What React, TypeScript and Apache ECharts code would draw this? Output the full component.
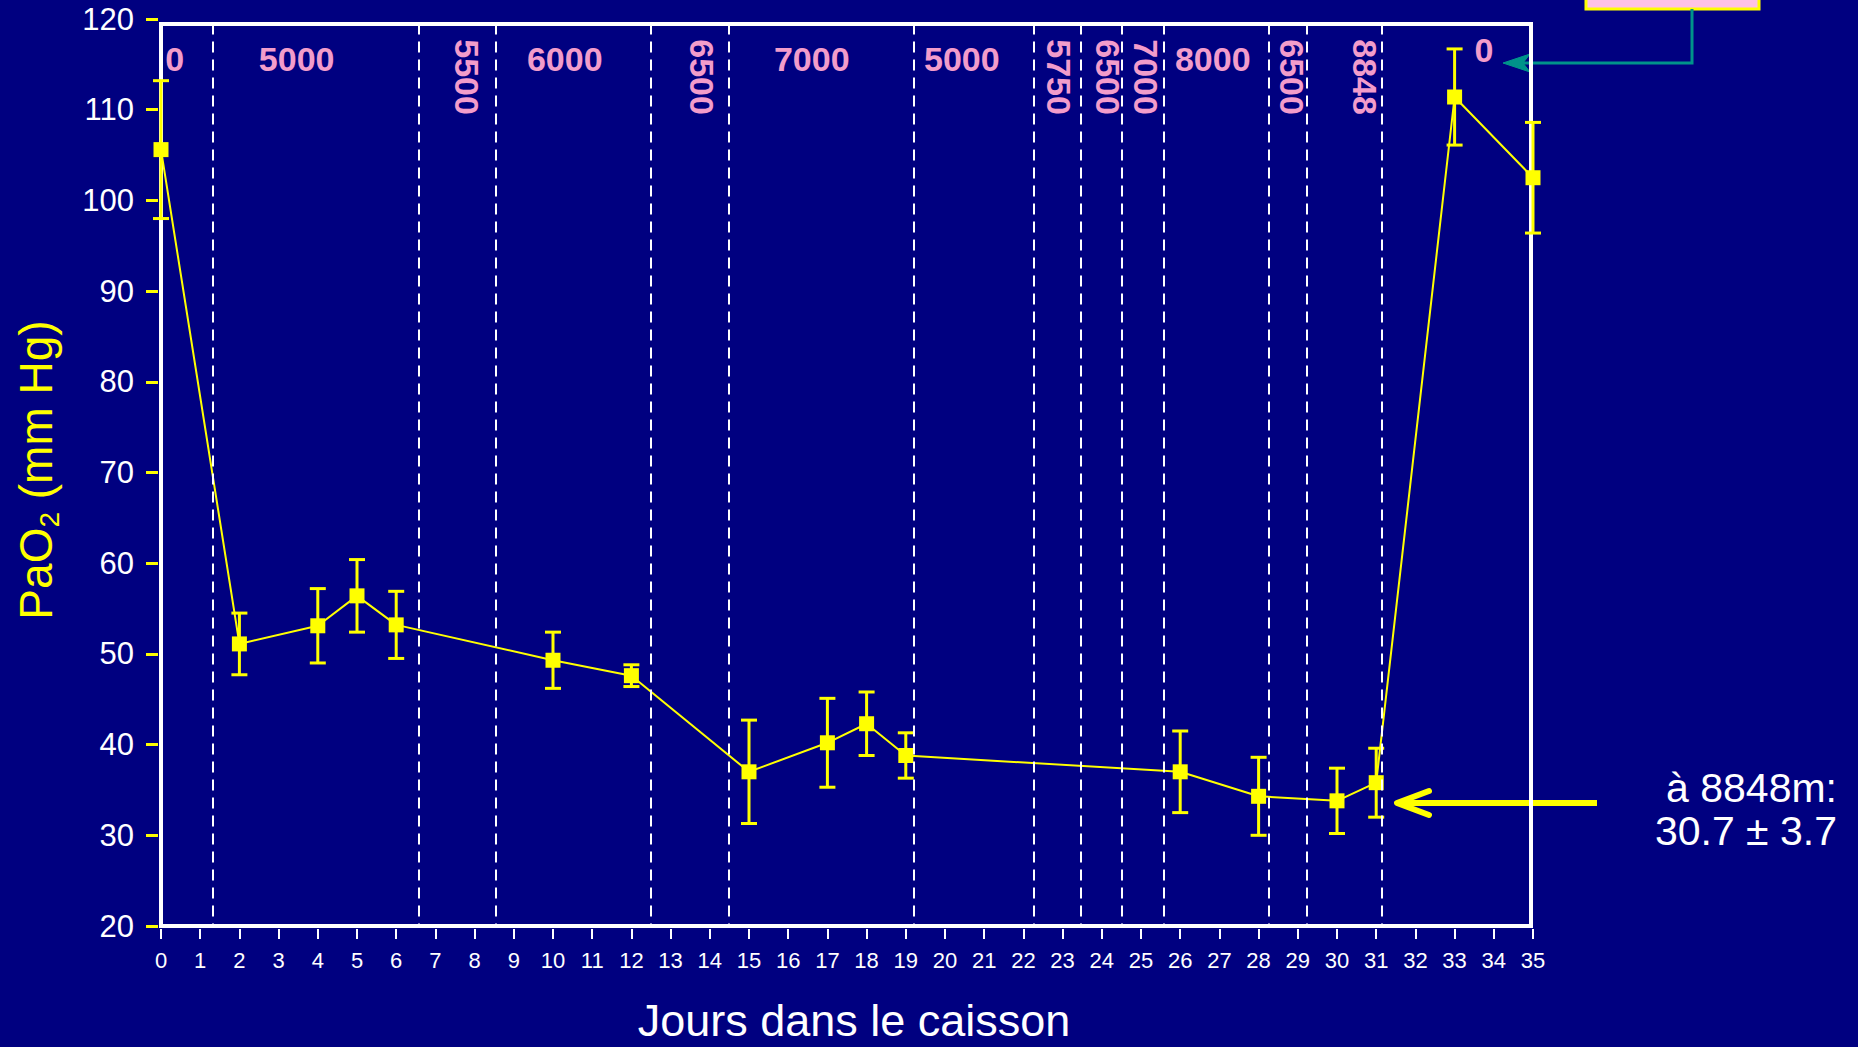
import React, { useEffect, useRef } from 'react';
import * as echarts from 'echarts';

// ---- Data ----
const days = [0, 2, 4, 5, 6, 10, 12, 15, 17, 18, 19, 26, 28, 30, 31, 33, 35];
const pao2Mean = [105.6, 51.1, 53.1, 56.4, 53.2, 49.3, 47.6, 37.0, 40.2, 42.3, 38.8, 37.0, 34.3, 33.8, 35.8, 111.4, 102.5];
const pao2Sd = [7.6, 3.4, 4.1, 4.0, 3.7, 3.1, 1.2, 5.7, 4.9, 3.5, 2.5, 4.5, 4.3, 3.6, 3.8, 5.3, 6.1];

const xMin = 0;
const xMax = 35;
const xInterval = 1;
const yMin = 20;
const yMax = 120;
const yInterval = 10;

// altitude phase boundaries (days)
const phaseBoundaries = [1.33, 6.57, 8.55, 12.5, 14.48, 19.2, 22.27, 23.47, 24.5, 25.58, 28.27, 29.23, 31.14];

// altitude labels (m)
const altitudeLabels = ['0', '5000', '5500', '6000', '6500', '7000', '5000', '5750', '6500', '7000', '8000', '6500', '8848', '0'];
const altitudeLabelDays = [0.35, 3.46, 7.8, 10.3, 13.8, 16.6, 20.43, 22.92, 24.16, 25.12, 26.83, 28.85, 30.71, 33.75];
const altitudeLabelLevels = [115.6, 115.6, 113.6, 115.6, 113.6, 115.6, 115.6, 113.6, 113.6, 113.6, 115.6, 113.6, 113.6, 116.6];
const altitudeLabelVertical = [false, false, true, false, true, false, false, true, true, true, false, true, true, false];

const xAxisTitle = 'Jours dans le caisson';
const summaryLines = ['à 8848m:', '30.7 ± 3.7'];

const FONT = '"Liberation Sans", Arial, Helvetica, sans-serif';
const NAVY = '#000080';
const YELLOW = '#ffff00';
const PINK = '#F29CCB';
const TEAL = '#00938A';

export default function App() {
  const ref = useRef<HTMLDivElement>(null);

  useEffect(() => {
    if (!ref.current) return;
    const chart = echarts.init(ref.current, undefined, { renderer: 'svg' });

    const errData = days.map((d, i) => [d, pao2Mean[i] - pao2Sd[i], pao2Mean[i] + pao2Sd[i]]);
    const lineData = days.map((d, i) => [d, pao2Mean[i]]);
    const labelData = altitudeLabelDays.map((d, i) => [d, altitudeLabelLevels[i]]);

    const option: any = {
      animation: false,
      backgroundColor: NAVY,
      textStyle: { fontFamily: FONT },
      grid: {
        left: 161,
        right: 325,
        top: 19,
        bottom: 121,
        show: false,
        containLabel: false,
        outerBoundsMode: 'none',
      },
      xAxis: {
        type: 'value',
        min: xMin,
        max: xMax,
        interval: xInterval,
        offset: 3,
        axisLine: { show: false, onZero: false },
        axisTick: { show: true, length: 10, lineStyle: { color: '#ffffff', width: 2 } },
        axisLabel: { color: '#ffffff', fontSize: 22, margin: 20, fontFamily: FONT },
        splitLine: { show: false },
        name: xAxisTitle,
        nameLocation: 'middle',
        nameGap: 69,
        nameTextStyle: { color: '#ffffff', fontSize: 45, fontFamily: FONT, padding: [0, 0, 0, 14] },
      },
      yAxis: {
        type: 'value',
        min: yMin,
        max: yMax,
        interval: yInterval,
        offset: 3,
        axisLine: { show: false, onZero: false },
        axisTick: { show: true, length: 12, lineStyle: { color: YELLOW, width: 3 } },
        axisLabel: { color: '#ffffff', fontSize: 31, margin: 24, fontFamily: FONT },
        splitLine: { show: false },
      },
      graphic: [
        {
          type: 'rect',
          z: 1,
          shape: { x: 161, y: 24, width: 1370, height: 902 },
          style: { fill: 'none', stroke: '#ffffff', lineWidth: 4 },
        },
        {
          type: 'text',
          x: 36,
          y: 470,
          rotation: Math.PI / 2,
          style: {
            text: '{a|PaO}{s|2}{a| (mm Hg)}',
            align: 'center',
            verticalAlign: 'middle',
            fill: YELLOW,
            rich: {
              a: { fontSize: 46, lineHeight: 54, fill: YELLOW, fontFamily: FONT },
              s: { fontSize: 28, lineHeight: 31, verticalAlign: 'bottom', fill: YELLOW, fontFamily: FONT },
            },
          },
        },
        {
          type: 'text',
          x: 1837,
          y: 788,
          style: {
            text: summaryLines[0],
            align: 'right',
            verticalAlign: 'middle',
            fill: '#ffffff',
            fontSize: 41,
            fontFamily: FONT,
          },
        },
        {
          type: 'text',
          x: 1837,
          y: 831,
          style: {
            text: summaryLines[1],
            align: 'right',
            verticalAlign: 'middle',
            fill: '#ffffff',
            fontSize: 41,
            fontFamily: FONT,
          },
        },
        {
          type: 'line',
          shape: { x1: 1399, y1: 803, x2: 1597, y2: 803 },
          style: { stroke: YELLOW, lineWidth: 6 },
        },
        {
          type: 'polyline',
          shape: { points: [[1429, 791], [1397, 803], [1429, 815]] },
          style: { stroke: YELLOW, lineWidth: 6, fill: 'none', lineCap: 'round', lineJoin: 'round' },
        },
        {
          type: 'rect',
          shape: { x: 1586, y: -20, width: 173, height: 29 },
          style: { fill: '#FFC2E6', stroke: YELLOW, lineWidth: 3 },
        },
        {
          type: 'polyline',
          shape: { points: [[1692, 9], [1692, 63], [1515, 63]] },
          style: { stroke: TEAL, lineWidth: 3, fill: 'none' },
        },
        {
          type: 'polygon',
          shape: { points: [[1503, 63], [1530, 54], [1523, 63], [1530, 72]] },
          style: { fill: TEAL, stroke: TEAL, lineWidth: 1 },
        },
      ],
      series: [
        {
          type: 'custom',
          name: 'SD',
          clip: false,
          silent: true,
          z: 3,
          data: errData,
          encode: { x: 0, y: [1, 2] },
          renderItem: (params: any, api: any) => {
            const x = api.value(0);
            const pLo = api.coord([x, api.value(1)]);
            const pHi = api.coord([x, api.value(2)]);
            const hw = 8;
            const style = { stroke: YELLOW, lineWidth: 3 };
            return {
              type: 'group',
              children: [
                { type: 'line', shape: { x1: pLo[0], y1: pLo[1], x2: pHi[0], y2: pHi[1] }, style },
                { type: 'line', shape: { x1: pLo[0] - hw, y1: pLo[1], x2: pLo[0] + hw, y2: pLo[1] }, style },
                { type: 'line', shape: { x1: pHi[0] - hw, y1: pHi[1], x2: pHi[0] + hw, y2: pHi[1] }, style },
              ],
            };
          },
          markLine: {
            silent: true,
            symbol: 'none',
            label: { show: false },
            lineStyle: { color: '#ffffff', width: 2, type: [11, 7], opacity: 1 },
            data: phaseBoundaries.map((d) => [
              { coord: [d, 119.5] },
              { coord: [d, yMin] },
            ]),
          },
        },
        {
          type: 'line',
          name: 'PaO2',
          data: lineData,
          clip: false,
          symbol: 'rect',
          symbolSize: 15,
          itemStyle: { color: YELLOW },
          lineStyle: { color: YELLOW, width: 2 },
          z: 4,
        },
        {
          type: 'custom',
          name: 'Altitude',
          clip: false,
          silent: true,
          z: 5,
          data: labelData,
          renderItem: (params: any, api: any) => {
            const i = params.dataIndex;
            const p = api.coord([api.value(0), api.value(1)]);
            return {
              type: 'text',
              x: p[0],
              y: p[1],
              rotation: altitudeLabelVertical[i] ? -Math.PI / 2 : 0,
              style: {
                text: altitudeLabels[i],
                fill: PINK,
                fontSize: 34,
                fontWeight: 'bold',
                fontFamily: FONT,
                align: 'center',
                verticalAlign: 'middle',
              },
            };
          },
        },
      ],
    };

    chart.setOption(option);
    return () => chart.dispose();
  }, []);

  return (
    <div
      ref={ref}
      style={{ position: 'fixed', left: 0, top: 0, width: 1858, height: 1047 }}
    />
  );
}
